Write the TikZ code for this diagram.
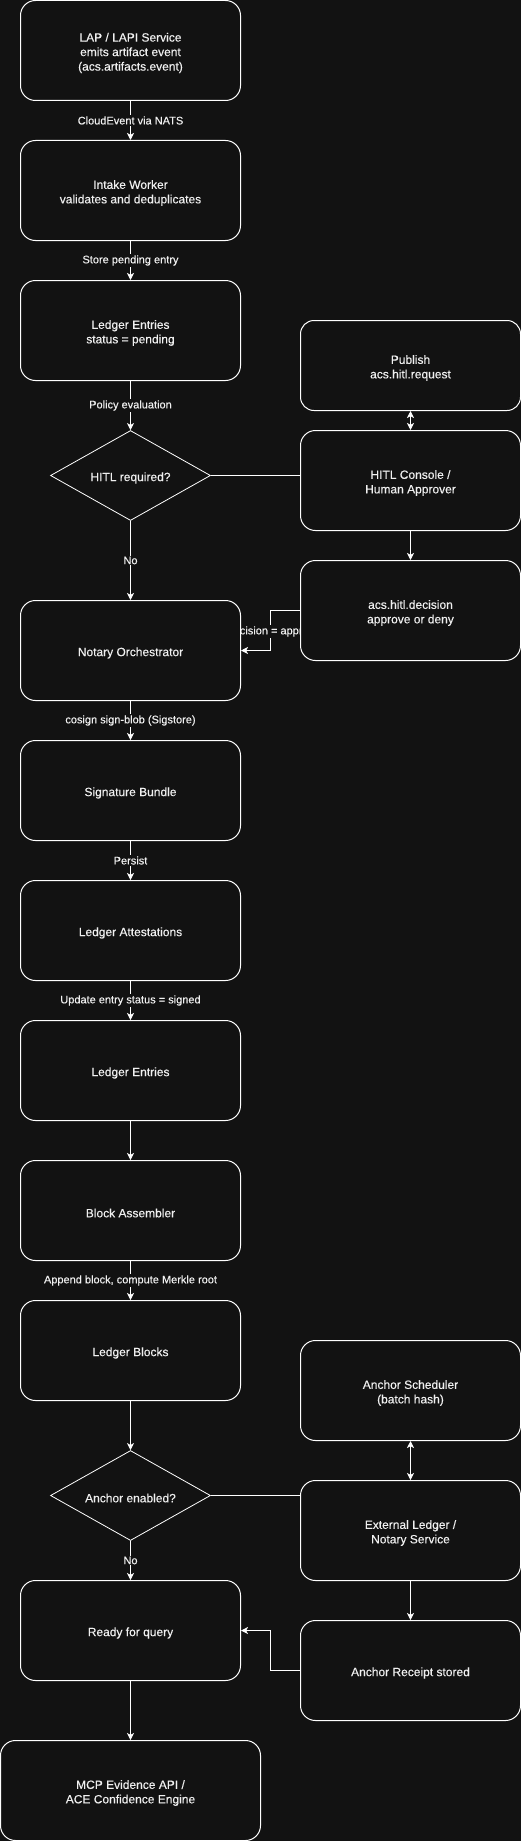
\documentclass[tikz,border=0pt]{standalone}
\usepackage{fontspec}
\setmainfont{Liberation Sans}[FakeBold=0.3]
\usetikzlibrary{shapes.geometric,arrows.meta}
\definecolor{bgc}{HTML}{121212}
\definecolor{fg}{HTML}{F0F0F0}
\pgfdeclarelayer{bgl}
\pgfdeclarelayer{edges}
\pgfsetlayers{bgl,edges,main}
\tikzset{
  boxtxt/.style={text=fg, align=center, inner sep=0pt, yshift=-2.5pt,
    font=\fontsize{12}{14.5}\selectfont},
  box/.style={draw=white, fill=bgc, line width=1pt, rounded corners=15pt,
    minimum width=220pt, minimum height=100pt, inner sep=0pt,
    label={[boxtxt]center:#1}},
  smallbox/.style={box=#1, minimum height=90pt, rounded corners=13.5pt},
  decide/.style={draw=white, fill=bgc, line width=0.8pt, diamond, shape aspect=1.78,
    minimum width=160pt, minimum height=90pt, inner sep=0pt,
    label={[boxtxt]center:#1}},
  conn/.style={draw=white, line width=1pt},
  arr/.style={conn, -{Stealth[length=7pt,width=7pt,inset=1.8pt]}},
  darr/.style={conn, {Stealth[length=7pt,width=7pt,inset=1.8pt]}-{Stealth[length=7pt,width=7pt,inset=1.8pt]}},
  lbl/.style={fill=bgc, text=fg, inner sep=1pt, font=\fontsize{11}{13}\selectfont}
}
\begin{document}
\begin{tikzpicture}[x=1pt,y=-1pt]
\begin{pgfonlayer}{bgl}
\fill[bgc] (0,0) rectangle (521,1841);
\end{pgfonlayer}
\useasboundingbox (0,0) rectangle (521,1841);

\node[box={LAP / LAPI Service\\emits artifact event\\(acs.artifacts.event)}] (lap) at (130.5,50.5) {};
\node[box={Intake Worker\\validates and deduplicates}] (intake) at (130.5,190.5) {};
\node[box={Ledger Entries\\status = pending}] (entries1) at (130.5,330.5) {};
\node[decide={HITL required?}] (hitl) at (130.5,475.5) {};
\node[smallbox={Publish\\acs.hitl.request}] (publish) at (410.5,365.5) {};
\node[box={HITL Console /\\Human Approver}] (console) at (410.5,480.5) {};
\node[box={acs.hitl.decision\\approve or deny}] (decision) at (410.5,610.5) {};
\node[box={Notary Orchestrator}] (notary) at (130.5,650.5) {};
\node[box={Signature Bundle}] (sig) at (130.5,790.5) {};
\node[box={Ledger Attestations}] (attest) at (130.5,930.5) {};
\node[box={Ledger Entries}] (entries2) at (130.5,1070.5) {};
\node[box={Block Assembler}] (assembler) at (130.5,1210.5) {};
\node[box={Ledger Blocks}] (blocks) at (130.5,1350.5) {};
\node[box={Anchor Scheduler\\(batch hash)}] (scheduler) at (410.5,1390.5) {};
\node[decide={Anchor enabled?}] (anchor) at (130.5,1495.5) {};
\node[box={External Ledger /\\Notary Service}] (external) at (410.5,1530.5) {};
\node[box={Ready for query}] (ready) at (130.5,1630.5) {};
\node[box={Anchor Receipt stored}] (receipt) at (410.5,1670.5) {};
\node[box={MCP Evidence API /\\ACE Confidence Engine}, minimum width=260pt] (mcp) at (130.5,1790.5) {};

\begin{pgfonlayer}{edges}
\draw[arr] (lap.south) -- node[lbl]{CloudEvent via NATS} (intake.north);
\draw[arr] (intake.south) -- node[lbl]{Store pending entry} (entries1.north);
\draw[arr] (entries1.south) -- node[lbl]{Policy evaluation} (hitl.north);
\draw[arr] (hitl.south) -- node[lbl]{No} (notary.north);
\draw[conn] (hitl.east) -- (hitl.east -| console.west);
\draw[darr] (publish.south) -- (console.north);
\draw[arr] (console.south) -- (decision.north);
\draw[arr] (decision.west) -- ++(-30,0) |- node[lbl, pos=0.25, xshift=7pt, yshift=-1pt]{decision = approved} (notary.east);
\draw[arr] (notary.south) -- node[lbl]{cosign sign-blob (Sigstore)} (sig.north);
\draw[arr] (sig.south) -- node[lbl]{Persist} (attest.north);
\draw[arr] (attest.south) -- node[lbl]{Update entry status = signed} (entries2.north);
\draw[arr] (entries2.south) -- (assembler.north);
\draw[arr] (assembler.south) -- node[lbl]{Append block, compute Merkle root} (blocks.north);
\draw[arr] (blocks.south) -- (anchor.north);
\draw[conn] (anchor.east) -- (anchor.east -| external.west);
\draw[darr] (scheduler.south) -- (external.north);
\draw[arr] (external.south) -- (receipt.north);
\draw[arr] (anchor.south) -- node[lbl]{No} (ready.north);
\draw[arr] (receipt.west) -- ++(-30,0) |- (ready.east);
\draw[arr] (ready.south) -- (mcp.north);
\end{pgfonlayer}
\end{tikzpicture}
\end{document}
